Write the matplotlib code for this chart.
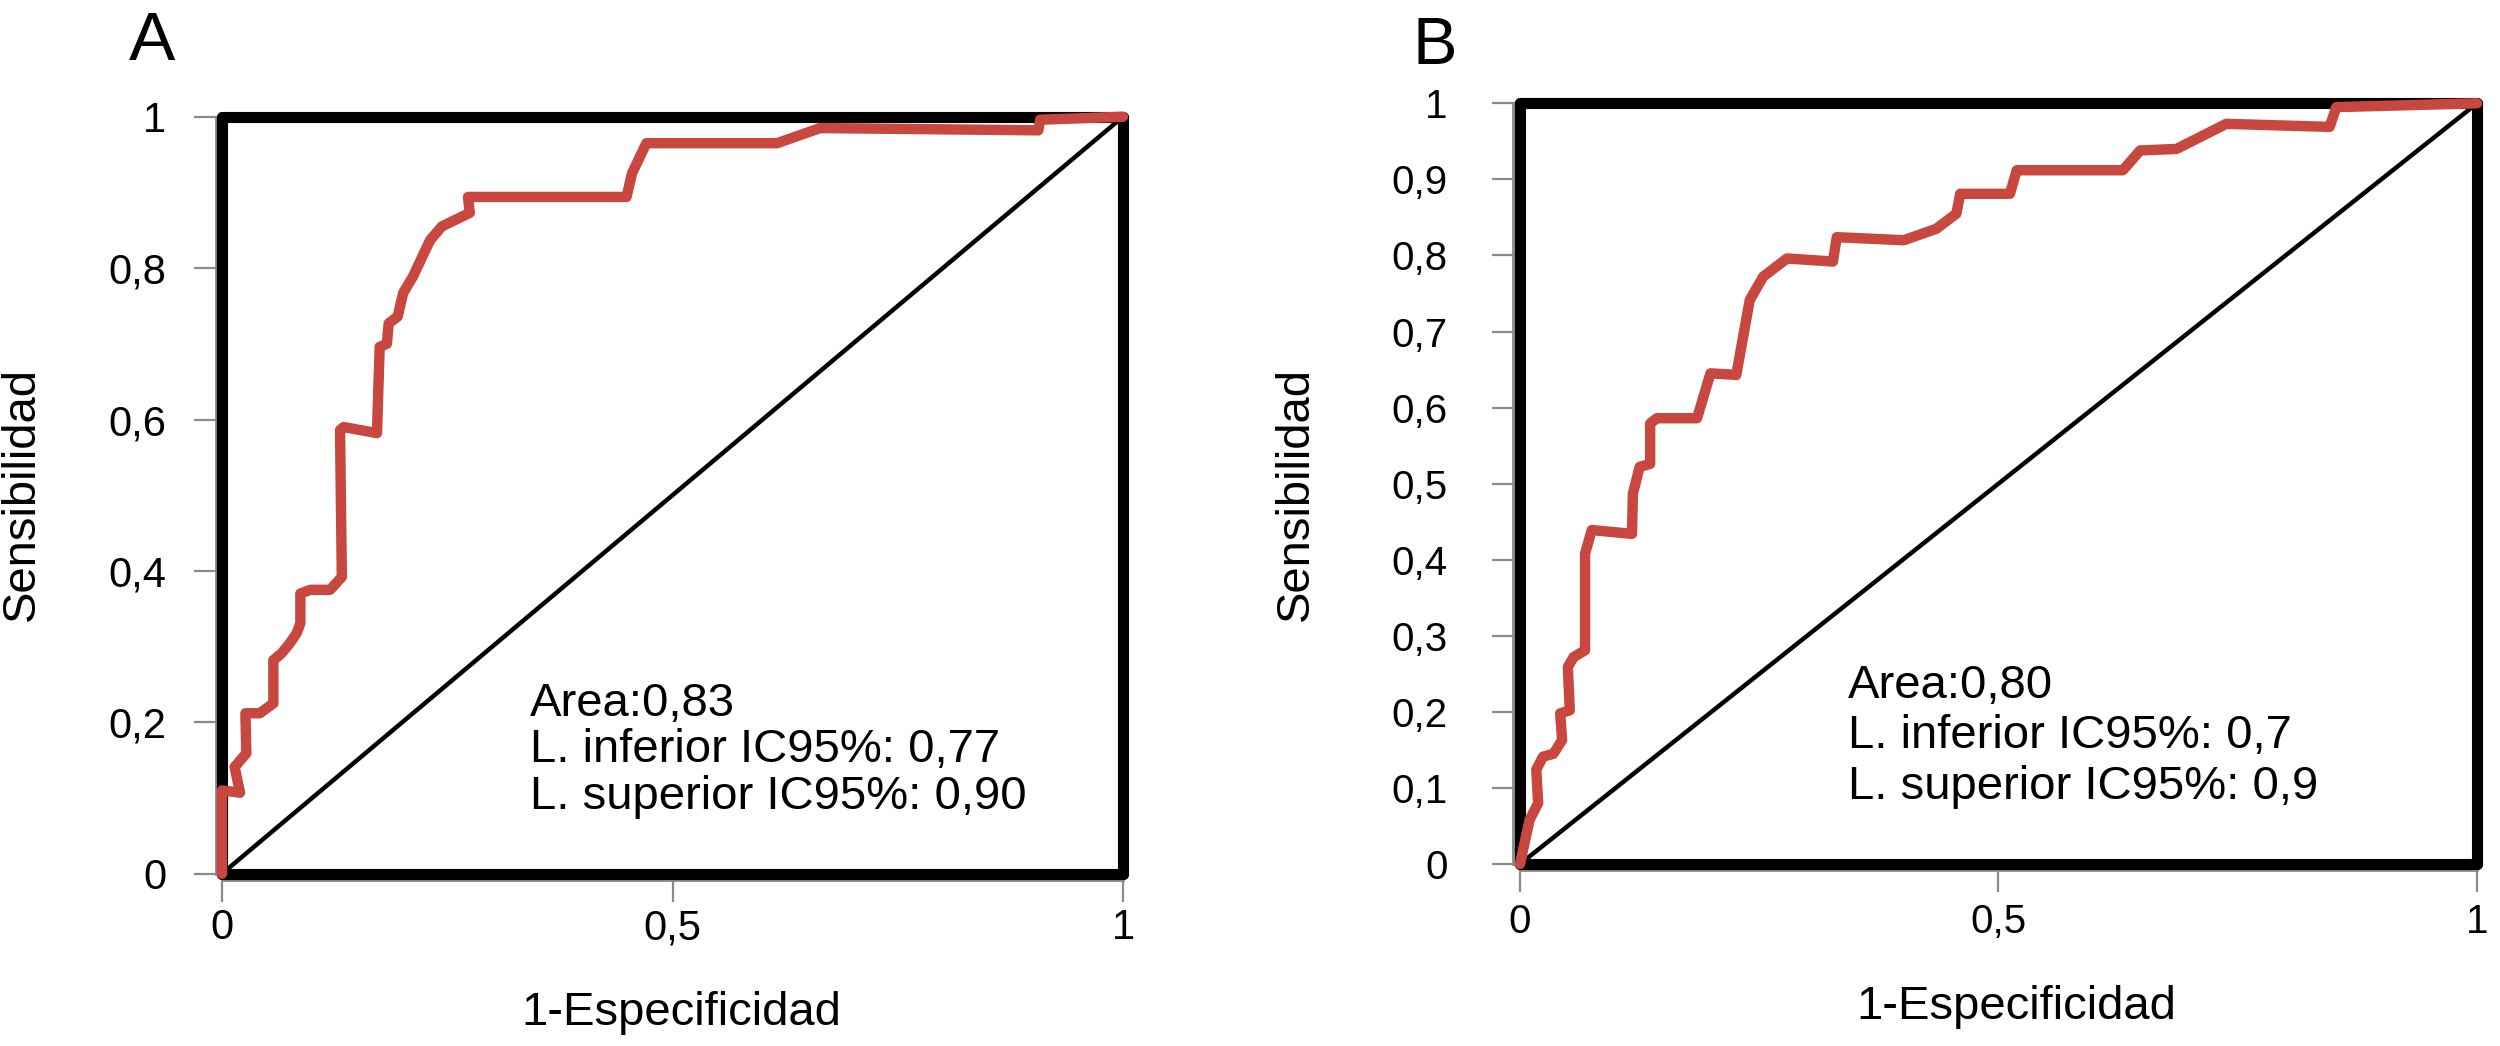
import matplotlib
matplotlib.use("Agg")
import matplotlib.pyplot as plt

plt.rcParams['font.family'] = ['Liberation Sans', 'DejaVu Sans']

# ---------------- data ----------------
fpr_a = [0, 0, 0.02, 0.014, 0.027, 0.026, 0.042, 0.057, 0.057, 0.066, 0.075, 0.083,
         0.087, 0.087, 0.098, 0.12, 0.133, 0.131, 0.135, 0.172, 0.175, 0.183, 0.185,
         0.195, 0.201, 0.212, 0.231, 0.244, 0.275, 0.273, 0.449, 0.455, 0.471, 0.616,
         0.664, 0.906, 0.908, 1.0]
tpr_a = [0, 0.11, 0.107, 0.141, 0.159, 0.212, 0.212, 0.225, 0.282, 0.291, 0.304, 0.318,
         0.331, 0.37, 0.375, 0.375, 0.392, 0.586, 0.59, 0.582, 0.696, 0.70, 0.727,
         0.736, 0.767, 0.789, 0.837, 0.855, 0.873, 0.894, 0.894, 0.925, 0.965, 0.965,
         0.985, 0.982, 0.996, 1.0]

fpr_b = [0, 0.01, 0.019, 0.017, 0.024, 0.035, 0.044, 0.042, 0.052, 0.05, 0.056, 0.068,
         0.068, 0.075, 0.117, 0.118, 0.125, 0.136, 0.136, 0.143, 0.185, 0.199, 0.226,
         0.24, 0.254, 0.279, 0.327, 0.331, 0.401, 0.435, 0.456, 0.46, 0.512, 0.519,
         0.63, 0.648, 0.686, 0.738, 0.846, 0.853, 1.0]
tpr_b = [0, 0.058, 0.08, 0.124, 0.141, 0.145, 0.163, 0.198, 0.202, 0.259, 0.272, 0.281,
         0.408, 0.439, 0.434, 0.487, 0.522, 0.526, 0.579, 0.586, 0.586, 0.645, 0.643,
         0.741, 0.772, 0.796, 0.792, 0.824, 0.82, 0.835, 0.855, 0.881, 0.881, 0.912,
         0.912, 0.938, 0.94, 0.973, 0.969, 0.995, 1.0]

xticks = [0, 0.5, 1]
xticklabels = ["0", "0,5", "1"]
yticks_a = [0, 0.2, 0.4, 0.6, 0.8, 1]
yticklabels_a = ["0", "0,2", "0,4", "0,6", "0,8", "1"]
yticks_b = [0, 0.1, 0.2, 0.3, 0.4, 0.5, 0.6, 0.7, 0.8, 0.9, 1]
yticklabels_b = ["0", "0,1", "0,2", "0,3", "0,4", "0,5", "0,6", "0,7", "0,8", "0,9", "1"]

text_a = ["Area:0,83", "L. inferior IC95%: 0,77", "L. superior IC95%: 0,90"]
text_b = ["Area:0,80", "L. inferior IC95%: 0,7", "L. superior IC95%: 0,9"]

RED = '#C8473F'
W, H = 2500, 1046
fig = plt.figure(figsize=(25, 10.46), dpi=100)


def px_axes(x0, x1, y_top, y_bot):
    return fig.add_axes([x0 / W, 1 - y_bot / H, (x1 - x0) / W, (y_bot - y_top) / H])


def style(ax, yticks, yticklabels, tsize, ypad, xpad, fpr, tpr, lines, ty, tx):
    ax.set_xlim(0, 1)
    ax.set_ylim(0, 1)
    for s in ax.spines.values():
        s.set_linewidth(8)
        s.set_color('black')
        s.set_capstyle('round')
    # thin grey axis line outside left / bottom spines
    ax.plot([-0.0068, -0.0068], [0, 1], transform=ax.transAxes, color='#8a8a8a',
            lw=2, clip_on=False, zorder=1)
    ax.plot([0, 1], [-0.0078, -0.0078], transform=ax.transAxes, color='#8a8a8a',
            lw=2, clip_on=False, zorder=1)
    ax.set_xticks(xticks)
    ax.set_xticklabels(xticklabels, fontsize=tsize)
    ax.set_yticks(yticks)
    ax.set_yticklabels(yticklabels, fontsize=tsize)
    ax.tick_params(axis='both', direction='out', length=20, width=1.6, color='#8a8a8a',
                   labelcolor='black')
    ax.tick_params(axis='y', pad=ypad)
    ax.tick_params(axis='x', pad=xpad)
    ax.plot([0, 1], [0, 1], color='black', lw=3.2, zorder=2)
    ax.plot(fpr, tpr, color=RED, lw=7.5, solid_joinstyle='round', solid_capstyle='round',
            zorder=4, clip_on=False)
    for line, yy in zip(lines, ty):
        ax.text(tx, yy, line, transform=ax.transAxes, fontsize=34, ha='left',
                va='baseline', color='black')


ax_a = px_axes(222, 1123, 116.7, 873.7)
style(ax_a, yticks_a, yticklabels_a, 30, 20, 5, fpr_a, tpr_a, text_a,
      [0.208, 0.148, 0.085], 0.342)
ax_b = px_axes(1520, 2477, 103.3, 864)
style(ax_b, yticks_b, yticklabels_b, 29, 32, 8, fpr_b, tpr_b, text_b,
      [0.218, 0.152, 0.085], 0.343)

# axis labels and panel letters (pixel positions)
fig.text(681 / W, 1 - 1025 / H, "1-Especificidad", fontsize=34, ha='center', va='baseline')
fig.text(2016 / W, 1 - 1019 / H, "1-Especificidad", fontsize=34, ha='center', va='baseline')
fig.text(22 / W, 1 - 494 / H, "Sensibilidad", fontsize=34, rotation=90, ha='center', va='center')
fig.text(1296 / W, 1 - 494 / H, "Sensibilidad", fontsize=34, rotation=90, ha='center', va='center')
fig.text(152 / W, 1 - 60 / H, "A", fontsize=50, ha='center', va='baseline')
fig.text(1435 / W, 1 - 64 / H, "B", fontsize=48, ha='center', va='baseline')

fig.savefig("out.png", dpi=100, facecolor='white')
